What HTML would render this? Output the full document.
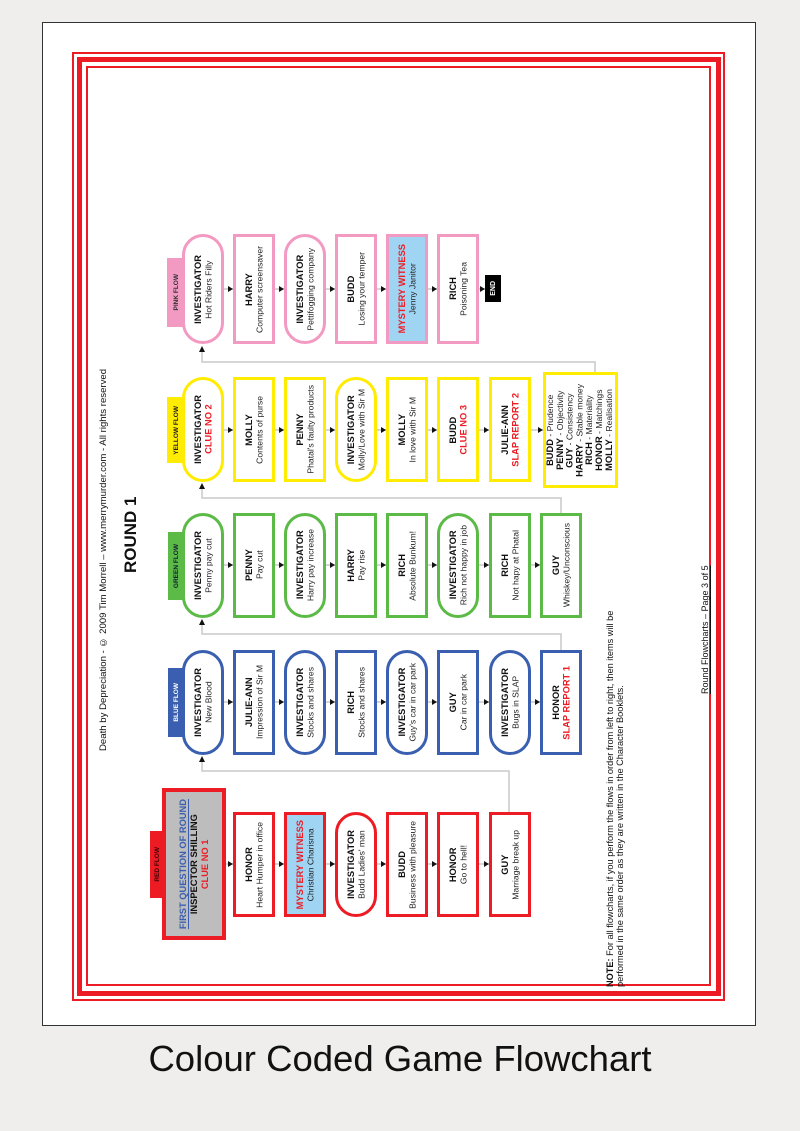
<!DOCTYPE html>
<html><head><meta charset="utf-8"><style>
body{margin:0;background:#efeeec;width:800px;height:1131px;position:relative;overflow:hidden;font-family:"Liberation Sans",Arial,sans-serif;color:#111}
.pg{position:absolute;left:42px;top:22px;width:714px;height:1004px;background:#fff;border:1.5px solid #333;box-sizing:border-box}
.fr{position:absolute;box-sizing:border-box;border:solid #ed1c24}
.b{position:absolute;box-sizing:border-box;border:3px solid;display:flex;align-items:center;justify-content:center;background:#fff;width:42px}
.b>div,.v{writing-mode:vertical-rl;transform:rotate(180deg);text-align:center;white-space:nowrap}
.b>div{font-size:8.6px;line-height:10.5px;color:#222}
.b b{font-size:9.3px;color:#111}
.p{border-radius:21px}
.r{border-color:#ed1c24}.bl{border-color:#3a5fb0}.g{border-color:#5cba47}.y{border-color:#ffec00}.pk{border-color:#f29ac1}
.mw{background:#9fd5f3}
.red{color:#ed1c24!important}
.tab{position:absolute;display:flex;align-items:center;justify-content:center;font-size:6.5px;font-weight:bold}
.v{position:absolute}
</style></head><body>
<div class="pg"></div>
<div class="fr" style="left:72px;top:52px;width:653px;height:949px;border-width:2px"></div>
<div class="fr" style="left:77px;top:57px;width:644px;height:939px;border-width:5px"></div>
<div class="fr" style="left:86px;top:66px;width:625px;height:920px;border-width:2px"></div>

<div class="v" style="left:97px;top:300px;width:14px;height:520px;font-size:9.6px;line-height:14px">Death by Depreciation - © 2009 Tim Morrell – www.merrymurder.com - All rights reserved</div>
<div class="v" style="left:120px;top:470px;width:22px;height:130px;font-size:17px;font-weight:bold;line-height:22px">ROUND 1</div>
<div class="v" style="left:605px;top:480px;width:24px;height:507px;font-size:9.2px;line-height:10px;text-align:left"><b>NOTE:</b> For all flowcharts, if you perform the flows in order from left to right, then items will be<br>performed in the same order as they are written in the Character Booklets.</div>
<div class="v" style="left:699px;top:560px;width:12px;height:140px;font-size:9px;line-height:12px;text-decoration:underline">Round Flowcharts – Page 3 of 5</div>

<svg style="position:absolute;left:0;top:0" width="800" height="1131">
<g stroke="#c8c8c8" stroke-width="1.5" fill="none">
<path d="M509 812V771H202V760"/><path d="M561 650V634H202V623"/><path d="M561 513V498H202V487"/><path d="M595 372V362H202V350"/>
<path d="M226 864H233M274 864H284M326 864H335M377 864H386M428 864H437M479 864H489"/>
<path d="M223 702H233M274 702H284M326 702H335M377 702H386M428 702H437M479 702H489M530 702H540"/>
<path d="M223 565H233M274 565H284M326 565H335M377 565H386M428 565H437M479 565H489M530 565H540"/>
<path d="M223 430H233M274 430H284M326 430H335M377 430H386M428 430H437M479 430H489M530 430H543"/>
<path d="M223 289H233M274 289H284M326 289H335M377 289H386M428 289H437M479 289H485"/>
</g>
<g fill="#111">
<path d="M199 762L202 756L205 762Z"/><path d="M199 625L202 619L205 625Z"/><path d="M199 489L202 483L205 489Z"/><path d="M199 352L202 346L205 352Z"/>
<path d="M228 861L233 864L228 867Z"/><path d="M279 861L284 864L279 867Z"/><path d="M330 861L335 864L330 867Z"/><path d="M381 861L386 864L381 867Z"/><path d="M432 861L437 864L432 867Z"/><path d="M484 861L489 864L484 867Z"/>
<path d="M228 699L233 702L228 705ZM279 699L284 702L279 705ZM330 699L335 702L330 705ZM381 699L386 702L381 705ZM432 699L437 702L432 705ZM484 699L489 702L484 705ZM535 699L540 702L535 705Z"/>
<path d="M228 562L233 565L228 568ZM279 562L284 565L279 568ZM330 562L335 565L330 568ZM381 562L386 565L381 568ZM432 562L437 565L432 568ZM484 562L489 565L484 568ZM535 562L540 565L535 568Z"/>
<path d="M228 427L233 430L228 433ZM279 427L284 430L279 433ZM330 427L335 430L330 433ZM381 427L386 430L381 433ZM432 427L437 430L432 433ZM484 427L489 430L484 433ZM538 427L543 430L538 433Z"/>
<path d="M228 286L233 289L228 292ZM279 286L284 289L279 292ZM330 286L335 289L330 292ZM381 286L386 289L381 292ZM432 286L437 289L432 292ZM480 286L485 289L480 292Z"/>
</g>
</svg>

<!-- RED -->
<div class="tab" style="left:150px;top:831px;width:14px;height:67px;background:#ed1c24;color:#400"><span class="v" style="position:static">RED FLOW</span></div>
<div class="b r" style="left:162px;top:788px;width:64px;height:152px;border-width:4px;background:#bdbdbd"><div style="font-size:9.3px;line-height:11px"><b style="color:#3a5fb0;text-decoration:underline">FIRST QUESTION OF ROUND</b><br><b>INSPECTOR SHILLING</b><br><b class="red">CLUE NO 1</b></div></div>
<div class="b r" style="left:233px;top:812px;height:105px"><div><b>HONOR</b><br>Heart Humper in office</div></div>
<div class="b r mw" style="left:284px;top:812px;height:105px"><div><b class="red">MYSTERY WITNESS</b><br>Christian Charisma</div></div>
<div class="b r p" style="left:335px;top:812px;height:105px"><div><b>INVESTIGATOR</b><br>Budd Ladies' man</div></div>
<div class="b r" style="left:386px;top:812px;height:105px"><div><b>BUDD</b><br>Business with pleasure</div></div>
<div class="b r" style="left:437px;top:812px;height:105px"><div><b>HONOR</b><br>Go to hell!</div></div>
<div class="b r" style="left:489px;top:812px;height:105px"><div><b>GUY</b><br>Marriage break up</div></div>

<!-- BLUE -->
<div class="tab" style="left:168px;top:668px;width:17px;height:69px;background:#3a5fb0;color:#fff"><span class="v" style="position:static">BLUE FLOW</span></div>
<div class="b bl p" style="left:182px;top:650px;height:105px"><div><b>INVESTIGATOR</b><br>New Blood</div></div>
<div class="b bl" style="left:233px;top:650px;height:105px"><div><b>JULIE-ANN</b><br>Impression of Sir M</div></div>
<div class="b bl p" style="left:284px;top:650px;height:105px"><div><b>INVESTIGATOR</b><br>Stocks and shares</div></div>
<div class="b bl" style="left:335px;top:650px;height:105px"><div><b>RICH</b><br>Stocks and shares</div></div>
<div class="b bl p" style="left:386px;top:650px;height:105px"><div><b>INVESTIGATOR</b><br>Guy's car in car park</div></div>
<div class="b bl" style="left:437px;top:650px;height:105px"><div><b>GUY</b><br>Car in car park</div></div>
<div class="b bl p" style="left:489px;top:650px;height:105px"><div><b>INVESTIGATOR</b><br>Bugs in SLAP</div></div>
<div class="b bl" style="left:540px;top:650px;height:105px"><div><b>HONOR</b><br><b class="red">SLAP REPORT 1</b></div></div>

<!-- GREEN -->
<div class="tab" style="left:168px;top:532px;width:17px;height:68px;background:#5cba47;color:#123"><span class="v" style="position:static">GREEN FLOW</span></div>
<div class="b g p" style="left:182px;top:513px;height:105px"><div><b>INVESTIGATOR</b><br>Penny pay cut</div></div>
<div class="b g" style="left:233px;top:513px;height:105px"><div><b>PENNY</b><br>Pay cut</div></div>
<div class="b g p" style="left:284px;top:513px;height:105px"><div><b>INVESTIGATOR</b><br>Harry pay increase</div></div>
<div class="b g" style="left:335px;top:513px;height:105px"><div><b>HARRY</b><br>Pay rise</div></div>
<div class="b g" style="left:386px;top:513px;height:105px"><div><b>RICH</b><br>Absolute Bunkum!</div></div>
<div class="b g p" style="left:437px;top:513px;height:105px"><div><b>INVESTIGATOR</b><br>Rich not happy in job</div></div>
<div class="b g" style="left:489px;top:513px;height:105px"><div><b>RICH</b><br>Not hapy at Phatal</div></div>
<div class="b g" style="left:540px;top:513px;height:105px"><div><b>GUY</b><br>Whiskey/Unconscious</div></div>

<!-- YELLOW -->
<div class="tab" style="left:167px;top:397px;width:18px;height:66px;background:#ffec00;color:#222"><span class="v" style="position:static">YELLOW FLOW</span></div>
<div class="b y p" style="left:182px;top:377px;height:105px"><div><b>INVESTIGATOR</b><br><b class="red">CLUE NO 2</b></div></div>
<div class="b y" style="left:233px;top:377px;height:105px"><div><b>MOLLY</b><br>Contents of purse</div></div>
<div class="b y" style="left:284px;top:377px;height:105px"><div><b>PENNY</b><br>Phatal's faulty products</div></div>
<div class="b y p" style="left:335px;top:377px;height:105px"><div><b>INVESTIGATOR</b><br>Molly/Love with Sir M</div></div>
<div class="b y" style="left:386px;top:377px;height:105px"><div><b>MOLLY</b><br>In love with Sir M</div></div>
<div class="b y" style="left:437px;top:377px;height:105px"><div><b>BUDD</b><br><b class="red">CLUE NO 3</b></div></div>
<div class="b y" style="left:489px;top:377px;height:105px"><div><b>JULIE-ANN</b><br><b class="red">SLAP REPORT 2</b></div></div>
<div class="b y" style="left:543px;top:372px;width:75px;height:116px"><div style="line-height:9.8px"><b>BUDD</b> - Prudence<br><b>PENNY</b> - Objectivity<br><b>GUY</b> - Consistency<br><b>HARRY</b> - Stable money<br><b>RICH</b> - Materiality<br><b>HONOR</b> - Matchings<br><b>MOLLY</b> - Realisation</div></div>

<!-- PINK -->
<div class="tab" style="left:167px;top:258px;width:18px;height:69px;background:#f29ac1;color:#333"><span class="v" style="position:static">PINK FLOW</span></div>
<div class="b pk p" style="left:182px;top:234px;height:110px"><div><b>INVESTIGATOR</b><br>Hot Riders Filly</div></div>
<div class="b pk" style="left:233px;top:234px;height:110px"><div><b>HARRY</b><br>Computer screensaver</div></div>
<div class="b pk p" style="left:284px;top:234px;height:110px"><div><b>INVESTIGATOR</b><br>Pettifogging company</div></div>
<div class="b pk" style="left:335px;top:234px;height:110px"><div><b>BUDD</b><br>Losing your temper</div></div>
<div class="b pk mw" style="left:386px;top:234px;height:110px"><div><b class="red">MYSTERY WITNESS</b><br>Jenny Janitor</div></div>
<div class="b pk" style="left:437px;top:234px;height:110px"><div><b>RICH</b><br>Poisoning Tea</div></div>
<div class="tab" style="left:485px;top:275px;width:16px;height:27px;background:#000;color:#fff;font-size:7px"><span class="v" style="position:static">END</span></div>

<div style="position:absolute;left:0;top:1036px;width:800px;text-align:center;font-size:36.5px;line-height:46px;color:#111">Colour Coded Game Flowchart</div>
</body></html>
